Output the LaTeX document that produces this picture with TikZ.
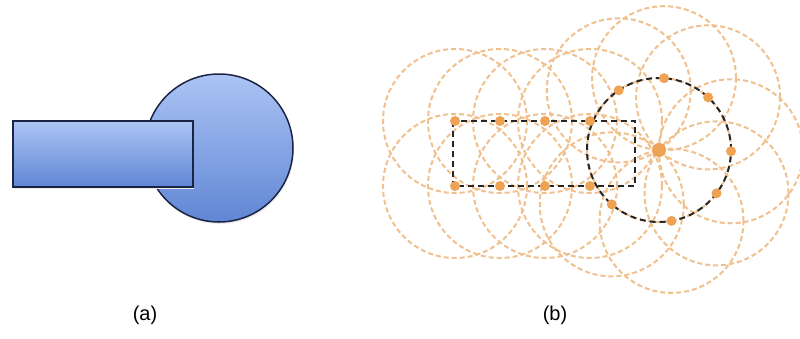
\documentclass[tikz,border=0pt]{standalone}
\usepackage{fontspec}
\setmainfont{Liberation Sans}
\usetikzlibrary{calc}

\definecolor{shapetop}{RGB}{172,196,245}
\definecolor{shapebot}{RGB}{96,134,212}
\definecolor{shapeedge}{RGB}{28,36,70}
\definecolor{dotorange}{RGB}{238,162,84}
\definecolor{ringorange}{RGB}{240,192,142}

\tikzset{
  blueshape/.style={draw=shapeedge, line width=1.5pt, top color=shapetop, bottom color=shapebot},
  ring/.style={draw=ringorange, line width=2pt, dash pattern=on 5pt off 3pt},
  outline/.style={draw=black!85, line width=2pt, dash pattern=on 6pt off 4pt},
  sample/.style={fill=dotorange},
  caption/.style={font=\fontsize{20}{24}\selectfont}
}

\begin{document}
\begin{tikzpicture}[x=1pt,y=-1pt]
    \useasboundingbox (0,0) rectangle (800,338);

    % (a) Rechteck mit Kreis
    \fill[black!8] (220,150) circle[radius=74pt];
    \path[blueshape] (219,148) circle[radius=74pt];
    \fill[black!8] (14,123) rectangle (194,189);
    \path[blueshape] (13,121) rectangle (193,187);
    \node[caption] (capa) at (145,315) {(a)};

    % (b) Abtastpunkte
    \coordinate (cc) at (659,150);
    \foreach \x [count=\i] in {455,500,545,590} {
        \coordinate (t\i) at (\x,121);
        \coordinate (b\i) at (\x,186);
    }
    \foreach \a [count=\i] in {124,86,47,-1,-37,-80,-131}
        \coordinate (c\i) at ({659+72*cos(\a)},{150-72*sin(\a)});

    % Kreise um jeden Punkt
    \foreach \p in {t1,t2,t3,t4,b1,b2,b3,b4,c1,c2,c3,c4,c5,c6,c7,cc}
        \draw[ring] (\p) circle[radius=72pt];

    % Umriss der Form
    \draw[outline] (453,121) rectangle (635,186);
    \draw[outline] (cc) circle[radius=72pt];

    % Punkte
    \foreach \p in {t1,t2,t3,t4,b1,b2,b3,b4,c1,c2,c3,c4,c5,c6,c7}
        \fill[sample] (\p) circle[radius=5pt];
    \fill[sample] (cc) circle[radius=7pt];
    \node[caption] (capb) at (555,315) {(b)};
\end{tikzpicture}
\end{document}
